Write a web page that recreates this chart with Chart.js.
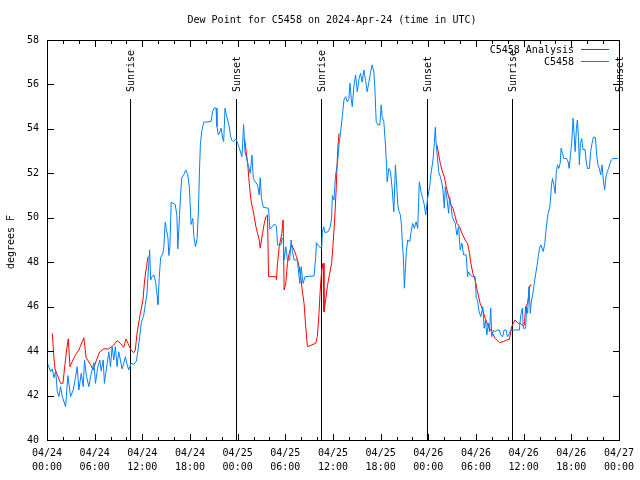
<!DOCTYPE html>
<html>
<head>
<meta charset="utf-8">
<script src="https://cdn.jsdelivr.net/npm/chart.js@4.4.1/dist/chart.umd.min.js"></script>
<style>
  html, body { margin: 0; padding: 0; background: #fff; }
  #wrap { width: 640px; height: 480px; }
</style>
</head>
<body>
<div id="wrap"><canvas id="dew" width="640" height="480"></canvas></div>
<script>
// hours since 2024-04-24 00:00 UTC
const blueHours = [0.13,0.46,0.67,0.88,1.09,1.30,1.50,1.71,1.92,2.34,2.63,2.97,3.30,3.60,3.80,4.01,4.31,4.56,4.72,4.98,5.27,5.48,5.90,6.10,6.40,6.65,6.82,7.07,7.23,7.48,7.78,7.99,8.20,8.40,8.61,8.82,9.03,9.24,9.45,9.66,9.87,10.08,10.29,10.58,10.91,11.25,11.46,11.67,11.88,12.17,12.38,12.59,12.75,12.92,13.05,13.21,13.46,13.67,13.88,13.96,14.13,14.30,14.59,14.71,14.88,15.01,15.22,15.34,15.47,15.63,16.14,16.35,16.47,16.68,16.81,16.97,17.22,17.47,17.72,17.93,18.14,18.35,18.48,18.69,18.90,19.06,19.19,19.31,19.48,19.73,20.65,20.86,21.07,21.28,21.40,21.57,21.78,21.91,22.11,22.24,22.41,22.57,22.74,22.95,23.08,23.24,23.49,23.79,24.00,24.21,24.54,24.75,24.92,25.13,25.38,25.59,25.80,25.97,26.22,26.51,26.72,26.84,27.01,27.22,27.89,28.06,28.39,28.64,28.89,29.02,29.44,29.56,29.73,29.85,30.06,30.27,30.56,30.73,30.90,31.11,31.53,31.65,31.82,31.99,32.24,32.49,33.62,33.83,33.91,34.24,34.58,34.66,34.83,35.00,35.41,35.66,35.83,35.92,36.12,36.33,36.55,36.76,36.97,37.17,37.38,37.59,37.80,38.01,38.14,38.30,38.43,38.64,38.85,39.06,39.27,39.47,39.68,39.89,40.10,40.31,40.52,40.73,40.94,41.15,41.27,41.44,41.65,41.90,42.07,42.19,42.40,42.61,42.74,42.82,43.03,43.24,43.45,43.66,43.86,43.99,44.16,44.32,44.49,44.62,44.74,44.87,44.99,45.12,45.24,45.41,45.66,45.83,46.04,46.25,46.46,46.67,46.87,47.08,47.29,47.50,47.67,47.92,48.17,48.34,48.59,48.76,48.88,49.01,49.18,49.30,49.51,49.72,49.84,50.01,50.14,50.35,50.56,50.68,50.85,51.02,51.18,51.39,51.60,51.81,52.02,52.23,52.44,52.77,52.94,53.06,53.27,53.61,53.90,54.03,54.19,54.40,54.61,54.86,55.03,55.20,55.36,55.57,55.70,55.86,55.99,56.20,56.41,56.62,56.95,57.12,57.37,57.54,57.79,57.96,58.21,58.37,58.71,59.46,59.63,59.84,59.96,60.25,60.38,60.50,60.67,60.84,61.00,61.17,61.34,61.50,61.67,61.84,62.00,62.17,62.47,62.67,62.80,62.97,63.09,63.30,63.43,63.51,63.64,63.80,63.97,64.10,64.26,64.43,64.60,64.72,64.89,65.06,65.39,65.60,65.73,65.90,66.06,66.23,66.35,66.48,66.65,66.77,66.90,67.02,67.15,67.31,67.48,67.73,67.86,68.03,68.28,68.44,68.61,68.78,69.03,69.20,69.36,69.53,69.70,69.87,70.03,70.20,70.37,70.53,70.70,70.87,71.04,71.25,71.87];
const blueValues = [43.4,43.07,43.2,42.8,43.1,42.17,41.95,42.4,41.95,41.5,42.9,41.95,42.25,42.85,43.3,42.25,43.0,42.4,43.6,42.85,42.4,42.85,43.48,42.55,43.3,43.6,43.1,43.6,42.55,43.2,43.97,43.3,44.2,43.6,44.2,43.3,43.97,43.6,43.2,43.45,43.75,43.4,43.15,43.45,43.4,43.55,44.05,44.65,45.3,45.6,46.1,46.6,47.6,48.55,47.2,47.35,47.43,47.12,46.45,46.1,47.3,48.2,48.4,48.7,49.8,49.52,49.1,48.3,48.7,50.7,50.6,50.1,48.6,50.1,51.0,51.8,51.93,52.15,51.93,51.35,49.7,49.97,49.2,48.7,49.07,50.3,52.07,53.3,53.9,54.3,54.33,54.8,54.95,54.93,54.1,53.73,53.88,54.03,53.58,53.43,54.93,54.63,54.4,54.1,53.73,53.5,53.43,53.55,53.35,53.13,52.75,54.2,52.98,52.67,52.3,52.0,52.82,51.77,51.62,51.47,51.02,51.8,50.87,50.47,50.43,49.48,49.62,49.72,49.62,48.78,48.78,49.07,49.07,48.1,48.7,48.1,48.1,49.0,48.48,48.1,48.1,47.65,47.05,47.8,47.05,47.35,47.38,48.25,48.88,48.7,48.63,49.33,49.6,49.33,49.38,49.6,49.98,51.0,50.8,51.93,52.38,53.28,53.88,54.55,55.3,55.45,55.22,55.37,56.05,55.37,55.0,55.95,56.43,55.67,56.25,56.5,56.1,56.65,56.18,55.67,56.1,56.55,56.88,56.55,55.88,54.33,54.18,54.18,55.08,54.55,54.33,53.28,52.38,51.62,52.22,52.07,51.32,50.27,52.38,51.62,50.58,50.27,50.12,49.67,48.85,48.18,46.83,47.72,48.48,49.0,48.92,49.38,49.75,49.52,49.82,49.52,51.62,51.17,50.87,50.58,50.12,50.88,51.4,52.0,52.6,53.35,54.07,53.2,52.6,52.07,51.85,51.55,51.25,50.43,51.4,50.87,50.2,50.95,50.58,50.05,49.9,49.75,49.22,49.6,48.55,48.85,48.33,48.33,47.35,47.57,47.42,47.35,47.35,46.38,46.3,45.77,45.55,46.0,45.03,45.4,44.73,45.25,44.87,45.93,44.65,44.95,44.87,44.95,44.95,44.73,44.65,44.95,44.95,44.65,44.8,44.95,44.95,44.95,45.6,45.93,45.03,45.03,46.0,45.7,46.9,45.7,46.3,46.6,47.05,47.43,47.8,48.25,48.63,48.78,48.48,48.85,49.38,49.9,50.2,50.5,51.03,51.48,51.77,51.48,51.1,52.0,52.38,52.22,52.45,53.13,52.9,52.67,52.67,52.53,52.22,52.82,53.43,54.48,53.8,52.98,54.03,54.4,53.65,52.38,53.35,53.57,53.07,53.07,52.6,52.22,52.22,52.98,53.35,53.62,53.62,52.82,52.38,52.22,51.93,52.38,51.7,51.25,51.85,52.07,52.22,52.45,52.6,52.67,52.67];

// analysis series, null = no analysis (gap)
const redHours = [0.67,0.88,1.00,1.30,1.71,2.01,2.26,2.47,2.68,2.89,3.39,3.72,4.01,4.64,4.93,5.48,5.81,6.23,6.65,7.15,7.78,8.40,8.82,9.24,9.66,9.95,10.29,10.58,10.91,11.12,11.33,11.75,12.08,12.29,12.71,
  18,
  24.85,25.05,25.26,25.46,25.67,25.88,26.09,26.30,26.51,26.72,26.84,27.14,27.35,27.55,27.76,27.89,28.81,28.89,29.02,29.23,29.56,29.73,29.85,30.06,30.27,30.48,30.81,31.11,31.40,31.65,31.94,32.15,32.36,32.57,32.78,33.83,34.03,34.24,34.37,34.58,34.75,34.87,35.08,35.29,35.50,35.83,35.99,36.21,36.42,36.54,36.67,36.76,
  42,
  49.09,49.51,49.72,50.01,50.26,50.56,50.85,51.10,51.39,51.60,51.94,52.23,52.65,52.94,53.19,53.36,53.61,53.90,54.19,54.53,54.86,55.15,55.57,55.99,56.41,56.95,57.45,57.87,58.21,58.50,58.71,58.92,59.33,59.63,59.96,60.10,60.25,60.50,60.67,60.80,61.00];
const redValues = [44.8,43.67,43.2,42.93,42.55,42.55,43.4,44.05,44.55,43.3,43.7,43.9,44.05,44.6,43.7,43.4,43.15,43.6,43.97,44.1,44.1,44.27,44.47,44.35,44.17,44.55,44.27,44.05,43.93,44.05,44.8,45.7,46.3,47.2,48.25,
  null,
  53.6,53.05,52.45,51.55,50.8,50.43,50.05,49.6,49.3,49.0,48.63,49.3,49.75,50.05,50.12,47.35,47.35,47.22,47.95,48.7,49.3,49.9,46.75,47.05,47.95,48.4,48.78,48.55,48.25,47.95,47.35,46.68,46.15,45.1,44.2,44.35,44.65,45.7,46.6,47.65,47.95,45.77,46.3,46.9,47.35,47.95,48.7,49.9,51.4,52.6,53.43,53.8,
  null,
  53.28,52.45,52.15,51.85,51.4,50.95,50.58,50.43,50.05,49.75,49.6,49.3,49.0,48.85,48.4,47.95,47.5,47.2,46.68,46.15,45.85,45.48,45.1,44.87,44.58,44.38,44.43,44.5,44.53,45.1,45.25,45.4,45.25,45.25,45.13,45.18,46.0,46.15,46.6,46.97,46.97];

const eventHours = [10.45, 23.73, 34.52, 47.82, 58.48, 71.95];
const eventNames = ['Sunrise', 'Sunset', 'Sunrise', 'Sunset', 'Sunrise', 'Sunset'];

const tickDates = ['04/24','04/24','04/24','04/24','04/25','04/25','04/25','04/25','04/26','04/26','04/26','04/26','04/27'];
const tickTimes = ['00:00','06:00','12:00','18:00','00:00','06:00','12:00','18:00','00:00','06:00','12:00','18:00','00:00'];

const seriesNames = ['C5458 Analysis', 'C5458'];
const seriesColors = ['#ff0000', '#0080ff'];

const mono = 'DejaVu Sans Mono';

function toPoints(hours, values) {
    return hours.map((h, i) => ({ x: h, y: values[i] }));
}

// gnuplot style frame, inward ticks, sun events, legend and titles
const gnuDecor = {
    id: 'gnuDecor',
    beforeDatasetsDraw(chart) {
        const ctx = chart.ctx;
        const xs = chart.scales.x;
        const a = chart.chartArea;
        ctx.save();
        ctx.fillStyle = '#000';
        ctx.font = '10px "' + mono + '"';
        eventHours.forEach((h, i) => {
            const px = Math.round(xs.getPixelForValue(h));
            ctx.fillRect(px, 99, 1, a.bottom - 99);
            ctx.save();
            ctx.translate(px + 1, 92);
            ctx.rotate(-Math.PI / 2);
            ctx.textAlign = 'left';
            ctx.textBaseline = 'middle';
            ctx.fillText(eventNames[i], 0, 0);
            ctx.restore();
        });
        ctx.restore();
    },
    afterDraw(chart) {
        const ctx = chart.ctx;
        const xs = chart.scales.x;
        const ys = chart.scales.y;
        const a = chart.chartArea;
        const L = Math.round(a.left), R = Math.round(a.right);
        const T = Math.round(a.top), B = Math.round(a.bottom);
        ctx.save();
        ctx.fillStyle = '#000';
        // frame
        ctx.fillRect(L, T, R - L + 1, 1);
        ctx.fillRect(L, B, R - L + 1, 1);
        ctx.fillRect(L, T, 1, B - T + 1);
        ctx.fillRect(R, T, 1, B - T + 1);
        // x ticks every 2 h, longer every 6 h
        for (let h = 0; h <= 72; h += 2) {
            const px = Math.round(xs.getPixelForValue(h));
            const len = h % 6 === 0 ? 6 : 3;
            ctx.fillRect(px, B - len, 1, len);
            ctx.fillRect(px, T + 1, 1, len);
        }
        for (let v = 40; v <= 58; v += 2) {
            const py = Math.round(ys.getPixelForValue(v));
            ctx.fillRect(L + 1, py, 6, 1);
            ctx.fillRect(R - 6, py, 6, 1);
        }

        ctx.font = '10px "' + mono + '"';
        ctx.textAlign = 'center';
        ctx.textBaseline = 'middle';
        ctx.fillText('Dew Point for C5458 on 2024-Apr-24 (time in UTC)', 332, 20);

        ctx.save();
        ctx.translate(11, 242);
        ctx.rotate(-Math.PI / 2);
        ctx.fillText('degrees F', 0, 0);
        ctx.restore();

        ctx.textAlign = 'right';
        seriesNames.forEach((name, i) => {
            const y = 50 + i * 12;
            ctx.fillStyle = '#000';
            ctx.fillText(name, 574, y);
            ctx.fillStyle = seriesColors[i];
            ctx.fillRect(581, y - 1, 28, 1);
        });
        ctx.restore();
    }
};

new Chart(document.getElementById('dew'), {
    type: 'line',
    data: {
        datasets: [
            {
                label: seriesNames[1],
                data: toPoints(blueHours, blueValues),
                borderColor: seriesColors[1],
                borderWidth: 1,
                pointRadius: 0,
                tension: 0,
                order: 0
            },
            {
                label: seriesNames[0],
                data: toPoints(redHours, redValues),
                borderColor: seriesColors[0],
                borderWidth: 1,
                pointRadius: 0,
                tension: 0,
                spanGaps: false,
                order: 1
            }
        ]
    },
    options: {
        responsive: false,
        animation: false,
        devicePixelRatio: 1,
        layout: { padding: { top: 40, right: 19, left: 0, bottom: 0 } },
        plugins: { legend: { display: false }, tooltip: { enabled: false }, title: { display: false } },
        scales: {
            x: {
                type: 'linear',
                min: 0,
                max: 72,
                grid: { display: false, drawTicks: false },
                border: { display: false },
                afterFit: s => { s.height = 40; },
                ticks: {
                    stepSize: 6,
                    autoSkip: false,
                    maxRotation: 0,
                    padding: 6,
                    color: '#000',
                    font: { family: mono, size: 10, lineHeight: 1.4 },
                    callback: (v) => {
                        const i = Math.round(v / 6);
                        return [tickDates[i], tickTimes[i]];
                    }
                }
            },
            y: {
                min: 40,
                max: 58,
                grid: { display: false, drawTicks: false },
                border: { display: false },
                afterFit: s => { s.width = 47; },
                ticks: {
                    stepSize: 2,
                    padding: 8,
                    color: '#000',
                    font: { family: mono, size: 10 }
                }
            }
        }
    },
    plugins: [gnuDecor]
});
</script>
</body>
</html>
